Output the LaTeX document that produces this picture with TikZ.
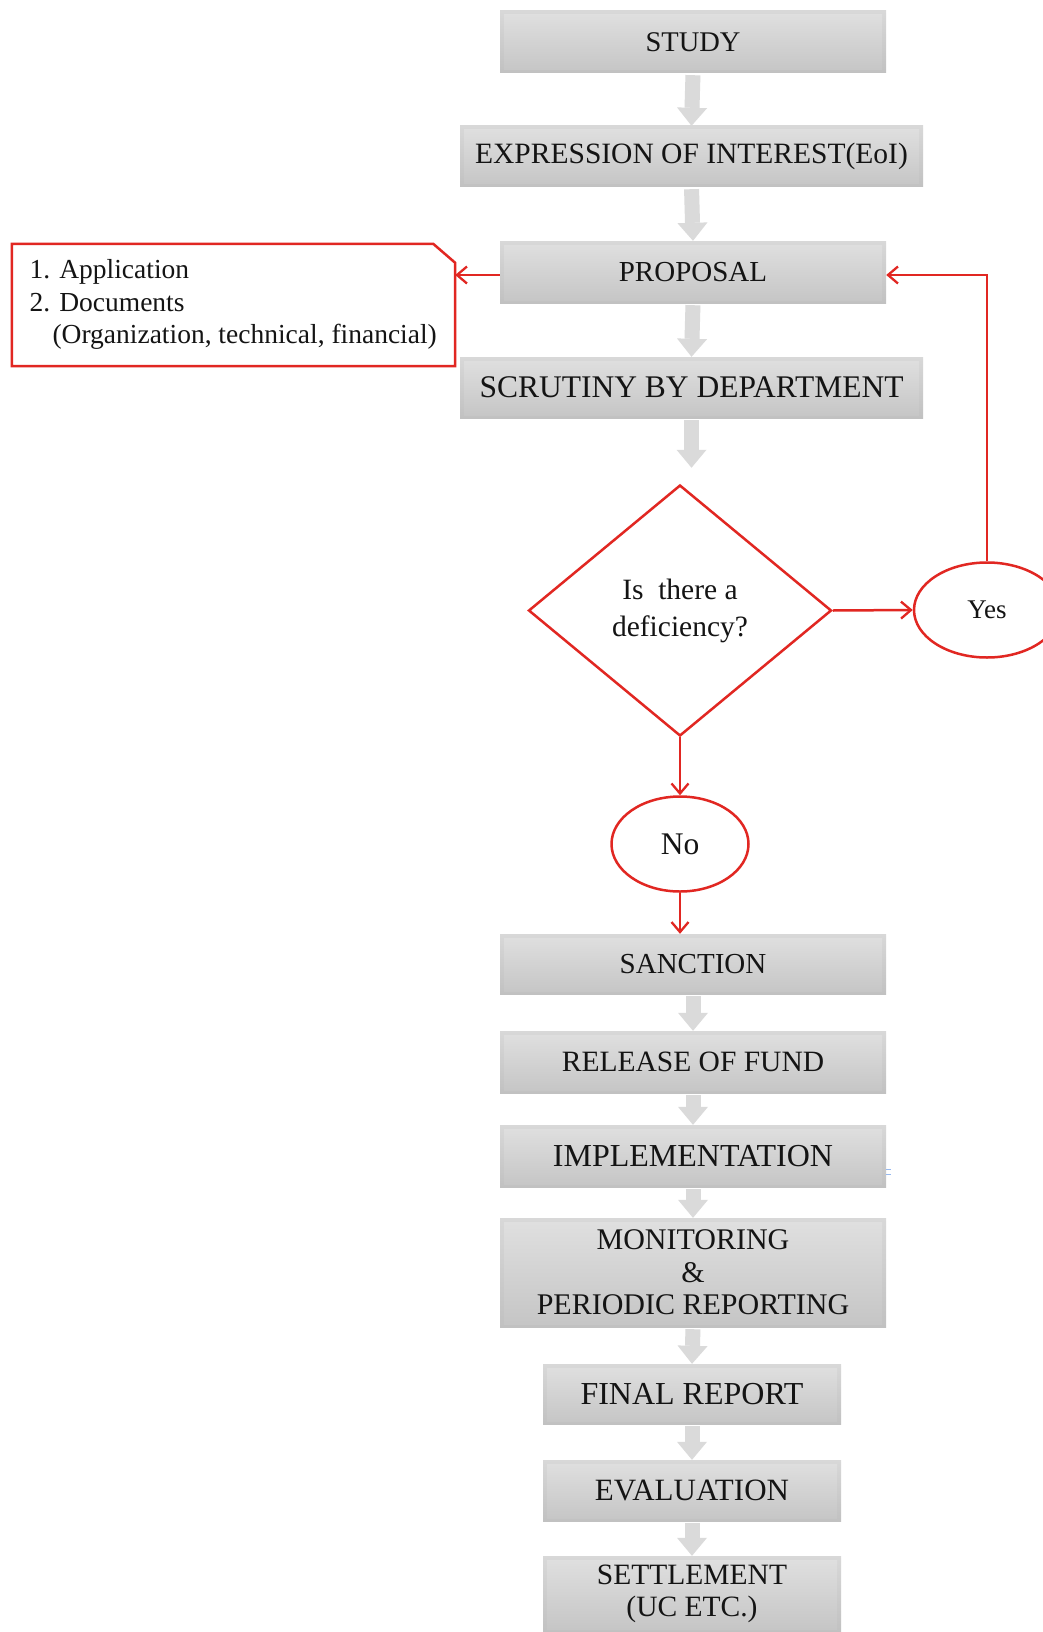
\documentclass[tikz,border=0pt]{standalone}
\usepackage{fontspec}
\setmainfont{Liberation Serif}
\usetikzlibrary{shapes.geometric,arrows.meta,calc}
\definecolor{rd}{HTML}{E12722}
\definecolor{arrgray}{HTML}{DADADA}
\definecolor{btop}{HTML}{E0E0E0}
\definecolor{bmid}{HTML}{DBDBDB}
\definecolor{bbot}{HTML}{C5C5C5}
\definecolor{otop}{HTML}{D8D8D8}
\definecolor{obot}{HTML}{C1C1C1}
\definecolor{txt}{HTML}{141414}
\newcommand\fsz[2]{\fontsize{#1}{#2}\selectfont}
\tikzset{
  box/.style={rectangle, inner sep=0pt, text=txt, align=center,
    top color=otop, bottom color=obot,
    path picture={\shade[top color=btop, middle color=bmid, bottom color=bbot]
      ([shift={(4pt,-4pt)}]path picture bounding box.north west) rectangle
      ([shift={(-4pt,3pt)}]path picture bounding box.south east);}},
  blk/.style={draw=arrgray, line width=15pt, shorten <=2pt,
    -{Triangle[length=18pt,width=30pt,line width=0pt]}},
  redline/.style={draw=rd, line width=2.5pt},
  rarr/.style={redline, -{Straight Barb[length=10pt,width=17pt,line width=2.3pt]}},
}
\begin{document}
\begin{tikzpicture}[x=1pt,y=-1pt]
\useasboundingbox (0,0) rectangle (1043,1632);
\clip (0,0) rectangle (1043,1632);
\fill[white] (0,0) rectangle (1043,1632);

% main boxes
\node[box, minimum width=386pt, minimum height=62pt, font=\fsz{28.5}{34}] (study) at (693,42) {STUDY};
\node[box, minimum width=463pt, minimum height=61pt, font=\fsz{29.5}{35}] (eoi) at (691.5,156.5) {EXPRESSION OF INTEREST(EoI)};
\node[box, minimum width=386pt, minimum height=62pt, font=\fsz{29}{35}] (proposal) at (693,272) {PROPOSAL};
\node[box, minimum width=463pt, minimum height=61pt, font=\fsz{31.5}{37}] (scrutiny) at (691.5,387.5) {SCRUTINY BY DEPARTMENT};

% decision
\node[diamond, draw=rd, line width=2.5pt, fill=white, minimum width=303pt, minimum height=251pt, inner sep=0pt,
  align=center, text=txt, font=\fsz{29.5}{37}] (dia) at (680,610.5) {Is\ \ there a\\deficiency?};
\node[ellipse, draw=rd, line width=2.5pt, minimum width=146pt, minimum height=95pt, inner sep=0pt,
  text=txt, font=\fsz{27}{32}] (yes) at (987,610) {Yes};
\node[ellipse, draw=rd, line width=2.5pt, minimum width=137pt, minimum height=95pt, inner sep=0pt,
  text=txt, font=\fsz{31.5}{36}] (no) at (680,844) {No};

% callout
\node[rectangle, minimum width=443pt, minimum height=122pt, inner sep=0pt] (callout) at (233.5,305) {};
\draw[redline, line join=miter] (callout.south west) -- (callout.north west)
  -- ([xshift=-22pt]callout.north east) -- ([yshift=-19pt]callout.north east)
  -- (callout.south east) -- cycle;
\node[anchor=west, align=left, text=txt, font=\fsz{27.5}{32.5}] (ctext) at (26,304.5)
  {1. Application\\2. Documents\\\hspace*{23pt}(Organization, technical, financial)};

\node[box, minimum width=386pt, minimum height=60pt, font=\fsz{29}{35}] (sanction) at (693,964) {SANCTION};
\node[box, minimum width=386pt, minimum height=62pt, font=\fsz{29.5}{35}] (release) at (693,1062) {RELEASE OF FUND};
\node[box, minimum width=386pt, minimum height=62pt, font=\fsz{32}{38}] (impl) at (693,1156) {IMPLEMENTATION};
\node[box, minimum width=386pt, minimum height=109pt, font=\fsz{30}{32.5}] (monitor) at (693,1272.5) {MONITORING\\\&\\PERIODIC REPORTING};
\node[box, minimum width=298pt, minimum height=60pt, font=\fsz{32}{38}] (final) at (692,1394) {FINAL REPORT};
\node[box, minimum width=298pt, minimum height=61pt, font=\fsz{31}{37}] (eval) at (692,1490.5) {EVALUATION};
\node[box, minimum width=298pt, minimum height=76pt, font=\fsz{29.5}{32}] (settle) at (692,1594) {SETTLEMENT\\(UC ETC.)};

% block arrows
\draw[blk] (study.south) -- (eoi.north);
\draw[blk] (eoi.south) -- (proposal.north);
\draw[blk] (proposal.south) -- (scrutiny.north);
\draw[blk, shorten >=16pt] (scrutiny.south) -- (scrutiny.south |- dia.north);
\draw[blk] (sanction.south) -- (release.north);
\draw[blk] (release.south) -- (impl.north);
\draw[blk] (impl.south) -- (monitor.north);
\draw[blk] (monitor.south) -- (final.north);
\draw[blk] (final.south) -- (eval.north);
\draw[blk] (eval.south) -- (settle.north);

% red connectors
\draw[rarr] ([yshift=-3pt]proposal.west) -- ([yshift=-3pt]proposal.west -| callout.east);
\draw[rarr] (dia.east) -- (yes.west);
\draw[rarr] (yes.north) |- ([yshift=-3pt]proposal.east);
\draw[rarr] (dia.south) -- (no.north);
\draw[rarr] (no.south) -- (no.south |- sanction.north);

% small blue marks beside implementation
\draw[draw={rgb,255:red,150;green,185;blue,240}, line width=0.8pt]
  ([yshift=-13pt]impl.east) -- ++(5,0) ([yshift=-18pt]impl.east) -- ++(5,0);
\end{tikzpicture}
\end{document}
